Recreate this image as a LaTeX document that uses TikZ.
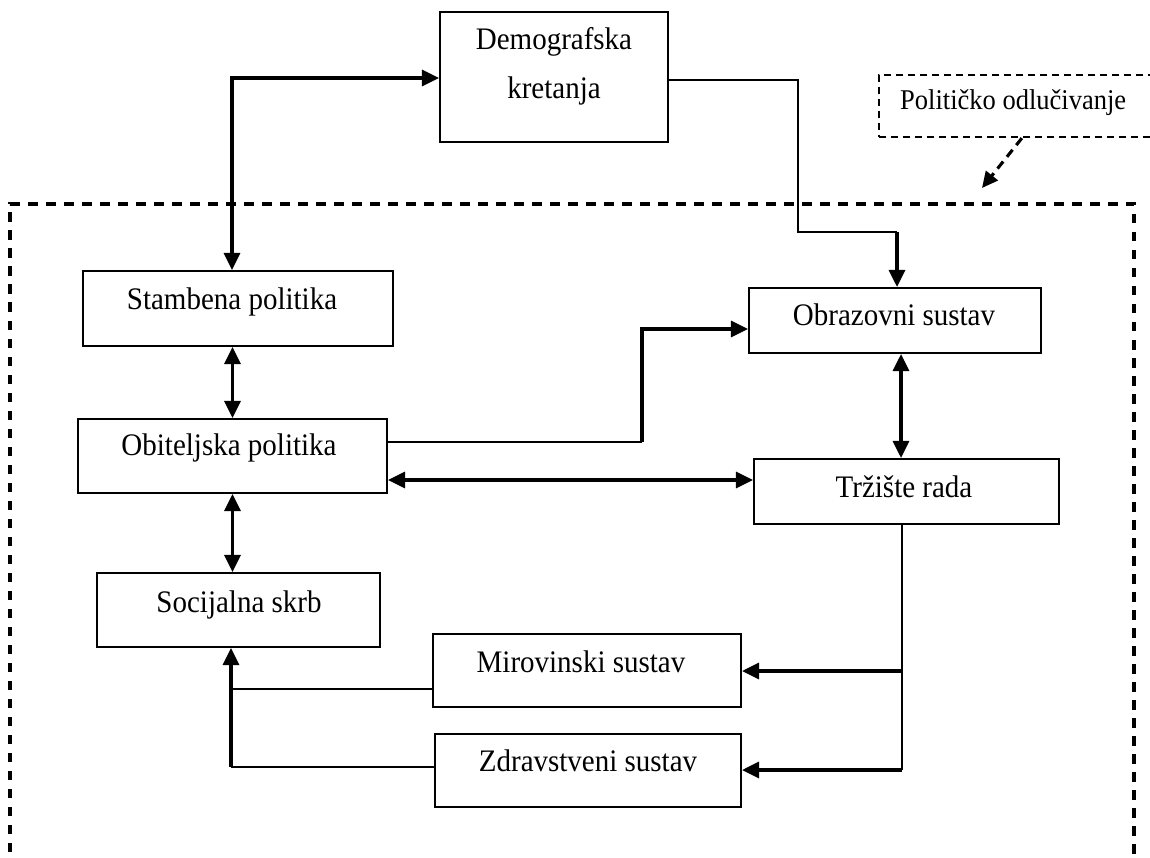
\documentclass[tikz,border=0pt]{standalone}
\usepackage{fontspec}
\usepackage{graphicx}
\setmainfont{Liberation Serif}
\usetikzlibrary{arrows.meta,calc}
\newcommand{\vstr}[1]{\scalebox{1}[1.08]{#1}}
\begin{document}
\begin{tikzpicture}[x=1pt,y=-1pt,
  box/.style={draw, line width=2.1pt, inner sep=0pt, rectangle},
  txt/.style={font=\fontsize{29}{34}\selectfont, inner sep=0pt, anchor=base},
  thk/.style={line width=3.1pt},
  thn/.style={line width=2pt},
  tip/.style={-{Triangle[length=17pt,width=16pt]}},
  both/.style={{Triangle[length=17pt,width=16pt]}-{Triangle[length=17pt,width=16pt]}},
  bigdash/.style={line width=3.1pt, dash pattern=on 9.5pt off 8.5pt},
  smalldash/.style={draw, line width=2.2pt, dash pattern=on 7pt off 5pt, inner sep=0pt, rectangle},
  dasharrow/.style={line width=3.1pt, dash pattern=on 9pt off 6pt, -{Triangle[length=16pt,width=15pt]}}
]
\useasboundingbox (0,0) rectangle (1150,858);

% big dashed frame (open at the bottom)
\draw[bigdash] (10,870) -- (10,204) -- (1134,204) -- (1134,870);

% boxes
\node[box, minimum width=228pt, minimum height=130pt] (demo) at (554,77) {};
\node[box, minimum width=310pt, minimum height=75pt] (stam) at (238,308.5) {};
\node[box, minimum width=309pt, minimum height=74pt] (obit) at (232.5,456) {};
\node[box, minimum width=283pt, minimum height=74pt] (soc) at (238.5,610) {};
\node[box, minimum width=292pt, minimum height=65pt] (obraz) at (895,320.5) {};
\node[box, minimum width=305pt, minimum height=65pt] (trz) at (906.5,491.5) {};
\node[box, minimum width=308pt, minimum height=73pt] (mir) at (587,670.5) {};
\node[box, minimum width=306pt, minimum height=73pt] (zdr) at (588,770.5) {};
\node[smalldash, minimum width=281pt, minimum height=62pt] (pol) at (1019.5,106) {};

% texts
\node[txt] (demot1) at (554,50) {\vstr{Demografska}};
\node[txt] (demot2) at (554,99) {\vstr{kretanja}};
\node[txt] (stamt) at (232,309) {\vstr{Stambena politika}};
\node[txt] (obitt) at (229,455) {\vstr{Obiteljska politika}};
\node[txt] (soct) at (239,612) {\vstr{Socijalna skrb}};
\node[txt] (obrazt) at (894,325) {\vstr{Obrazovni sustav}};
\node[txt] (trzt) at (904,497) {\vstr{Tržište rada}};
\node[txt] (mirt) at (581,672) {\vstr{Mirovinski sustav}};
\node[txt] (zdrt) at (588,771) {\vstr{Zdravstveni sustav}};
\node[txt, anchor=base west, font=\fontsize{26.5}{31}\selectfont] (polt) at (900,110) {\vstr{Političko odlučivanje}};

% connectors
\coordinate (c0) at (232,78);
\draw[thk, both, line join=miter] (c0 |- stam.north) -- (c0) -- (demo.west |- c0);

\coordinate (c1) at (798,80);
\coordinate (c2) at (798,232);
\coordinate (c3) at (897,232);
\draw[thn] (demo.east |- c1) -- (c1) -- (c2) -- (c3);
\draw[thk, tip] (c3) -- (c3 |- obraz.north);

\draw[thk, both] (stam.south -| obit.north) -- (obit.north);
\draw[thk, both] (obit.south) -- (obit.south |- soc.north);

\coordinate (c4) at (642,442);
\coordinate (c5) at (642,329);
\draw[thn] (obit.east |- c4) -- (c4);
\draw[thk, tip] (c4) -- (c5) -- (c5 -| obraz.west);

\coordinate (c6) at (600,480);
\draw[thk, both] (c6 -| obit.east) -- (c6 -| trz.west);

\coordinate (c7) at (901,400);
\draw[thk, both] (obraz.south -| c7) -- (trz.north -| c7);

\coordinate (c8) at (902,671);
\coordinate (c9) at (902,770);
\draw[thn] (trz.south -| c8) -- (c9);
\draw[thk, tip] (c8) -- (c8 -| mir.east);
\draw[thk, tip] (c9) -- (c9 -| zdr.east);

\coordinate (c10) at (231,689);
\coordinate (c11) at (231,767);
\draw[thn] (mir.west |- c10) -- (c10);
\draw[thn] (zdr.west |- c11) -- (c11);
\draw[thk, tip] (c11) -- (c11 |- soc.south);

\coordinate (pdst) at (982,188);
\draw[dasharrow] ($(pol.south west)+(144,0)$) -- (pdst);
\end{tikzpicture}
\end{document}
